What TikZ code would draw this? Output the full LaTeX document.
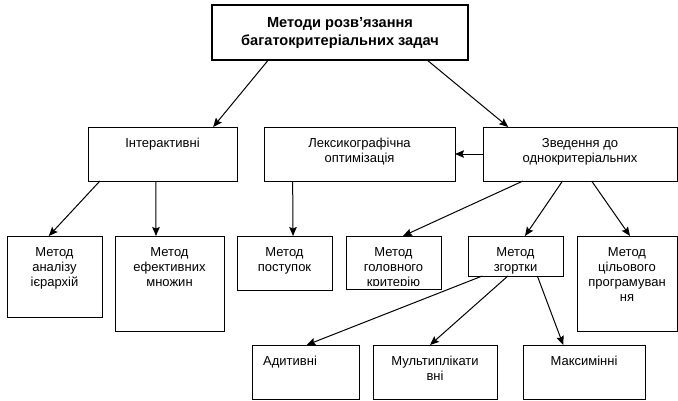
\documentclass[tikz,border=0pt]{standalone}
\usepackage{fontspec}
\setmainfont{Liberation Sans}
\usetikzlibrary{arrows.meta,positioning,calc}

\tikzset{
  blk/.style={rectangle,draw=black,line width=1pt,inner sep=0pt,outer sep=0pt,anchor=north west},
  lbl/.style={inner sep=0pt,font=\fontsize{13}{15.2}\selectfont},
  txt/.style={label={[lbl,anchor=north,align=center,yshift=-11pt]north:{#1}}},
  txtl/.style={label={[lbl,anchor=north west,align=left,xshift=11pt,yshift=-11pt]north west:{#1}}},
  arr/.style={-{Stealth[length=9pt,width=7.5pt,inset=1.5pt]},line width=1pt}
}

\begin{document}
\begin{tikzpicture}[x=1pt,y=-1pt]
\useasboundingbox (0,0) rectangle (678,400);

% top
\node[blk,line width=1.6pt,minimum width=256pt,minimum height=55pt,align=center,
  font=\bfseries\fontsize{14.6}{18}\selectfont](top) at (212,5)
  {Методи розв'язання\\багатокритеріальних задач};

% second row
\node[blk,minimum width=149pt,minimum height=54pt,txt={Інтерактивні}](intr) at (88,127){};
\node[blk,minimum width=191pt,minimum height=54pt,right=27pt of intr.north east,anchor=north west,
  txt={Лексикографічна\\оптимізація}](lex){};
\node[blk,minimum width=194pt,minimum height=54pt,right=28pt of lex.north east,anchor=north west,
  txt={Зведення до\\однокритеріальних}](zv){};

% third row
\node[blk,minimum width=95pt,minimum height=81pt,txt={Метод\\аналізу\\ієрархій}](ahp) at (7,236){};
\node[blk,minimum width=109pt,minimum height=95pt,right=13pt of ahp.north east,anchor=north west,
  txt={Метод\\ефективних\\множин}](eff){};
\node[blk,minimum width=95pt,minimum height=54pt,right=13pt of eff.north east,anchor=north west,
  txt={Метод\\поступок}](conc){};
\node[blk,minimum width=95pt,minimum height=53pt,right=14pt of conc.north east,anchor=north west](head){};
\begin{scope}
  \clip (head.north west) rectangle ([yshift=4pt]head.south east);
  \node[lbl,anchor=north,align=center] (headt) at ([yshift=-11pt]head.north) {Метод\\головного\\критерію};
\end{scope}
\node[blk,minimum width=95pt,minimum height=40pt,right=27pt of head.north east,anchor=north west,
  txt={Метод\\згортки}](conv){};
\node[blk,minimum width=100pt,minimum height=95pt,right=14pt of conv.north east,anchor=north west,
  txt={Метод\\цільового\\програмуван\\ня}](goal){};

% bottom row
\node[blk,minimum width=107pt,minimum height=54pt,txtl={Адитивні}](add) at (252,345){};
\node[blk,minimum width=124pt,minimum height=54pt,right=14pt of add.north east,anchor=north west,
  txt={Мультиплікати\\вні}](mult){};
\node[blk,minimum width=122pt,minimum height=54pt,right=26pt of mult.north east,anchor=north west,
  txt={Максимінні}](maxmin){};

% arrows
\draw[arr] ($(top.south west)!0.22!(top.south east)$) -- ($(intr.north west)!0.84!(intr.north east)$);
\draw[arr] ($(top.south west)!0.84!(top.south east)$) -- ($(zv.north west)!0.13!(zv.north east)$);
\draw[arr] (zv.west) -- (lex.east);
\draw[arr] ($(intr.south west)!0.08!(intr.south east)$) -- ($(ahp.north west)!0.44!(ahp.north east)$);
\draw[arr] ($(intr.south west)!0.456!(intr.south east)$) -- ($(eff.north west)!0.376!(eff.north east)$);
\draw[arr] ($(lex.south west)!0.15!(lex.south east)$) -- ($(conc.north west)!0.59!(conc.north east)$);
\draw[arr] ($(zv.south west)!0.206!(zv.south east)$) -- ($(head.north west)!0.6!(head.north east)$);
\draw[arr] ($(zv.south west)!0.41!(zv.south east)$) -- ($(conv.north west)!0.6!(conv.north east)$);
\draw[arr] ($(zv.south west)!0.56!(zv.south east)$) -- ($(goal.north west)!0.53!(goal.north east)$);
\draw[arr] ($(conv.south west)!0.15!(conv.south east)$) -- ($(add.north west)!0.51!(add.north east)$);
\draw[arr] ($(conv.south west)!0.42!(conv.south east)$) -- ($(mult.north west)!0.46!(mult.north east)$);
\draw[arr] ($(conv.south west)!0.73!(conv.south east)$) -- ($(maxmin.north west)!0.33!(maxmin.north east)$);
\end{tikzpicture}
\end{document}
